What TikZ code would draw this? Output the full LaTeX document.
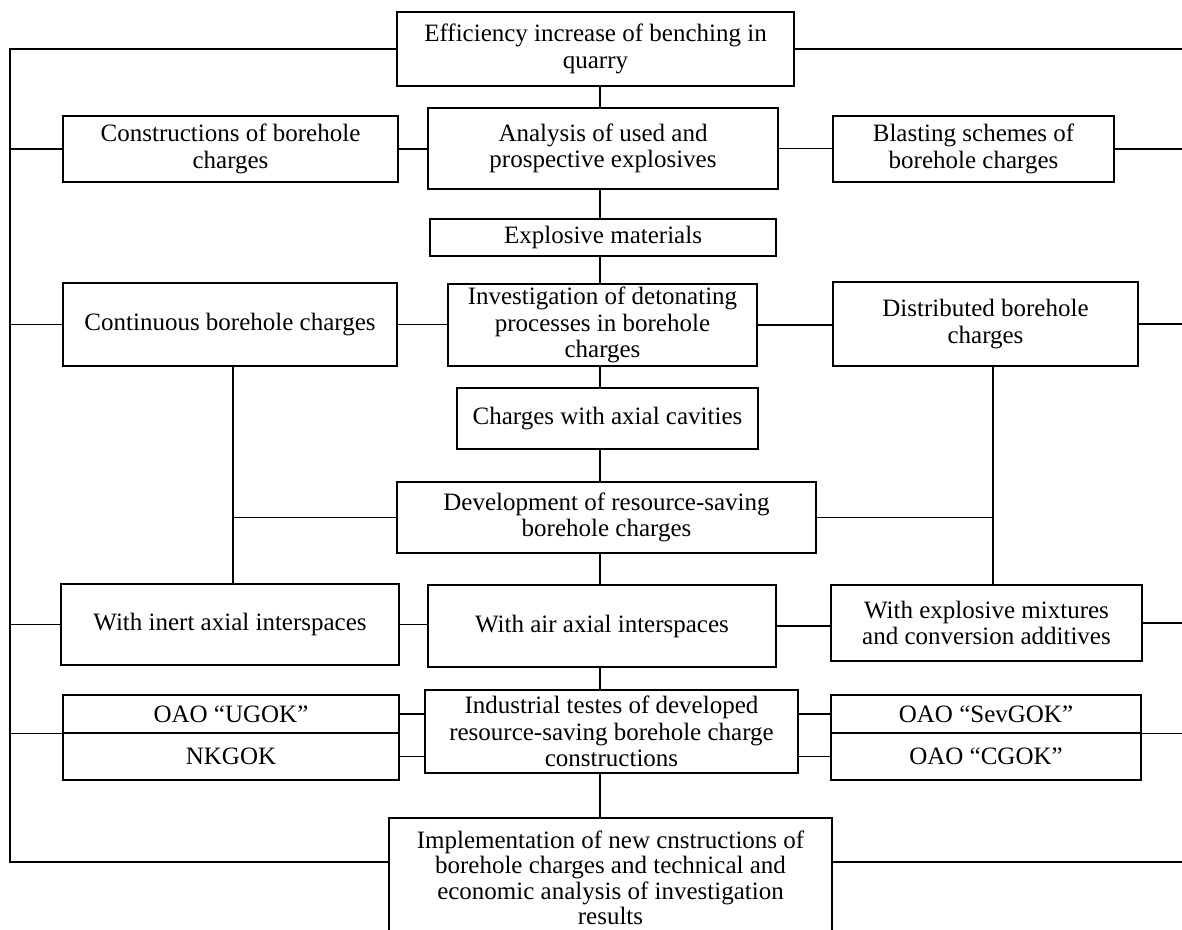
\documentclass[tikz,border=0pt]{standalone}
\usepackage{fontspec}
\setmainfont{Liberation Serif}
\begin{document}
\begin{tikzpicture}[x=1pt,y=-1pt,
  box/.style={draw,line width=1.5pt,inner sep=0pt,align=center,
    font=\fontsize{25}{26.5}\selectfont},
  conn/.style={line width=1.3pt}]
\useasboundingbox[fill=white] (0,0) rectangle (1182,929);
% helper x coordinates
\coordinate (L) at (10,0);
\coordinate (R) at (1182,0);
\coordinate (S) at (600,0);
\coordinate (CL) at (233,0);
\coordinate (CR) at (993,0);
% nodes
\node[box,minimum width=397pt,minimum height=74pt] (top) at (595.5,49) {Efficiency increase of benching in\\quarry};
\node[box,minimum width=335pt,minimum height=66pt] (cons) at (230.5,149) {Constructions of borehole\\charges};
\node[box,minimum width=350pt,minimum height=81pt] (ana) at (603,148.5) {Analysis of used and\\prospective explosives};
\node[box,minimum width=281pt,minimum height=66pt] (blast) at (973.5,149) {Blasting schemes of\\borehole charges};
\node[box,minimum width=346pt,minimum height=37pt] (expl) at (603,237.5) {Explosive materials};
\node[box,minimum width=309pt,minimum height=82pt] (inv) at (602.5,325) {Investigation of detonating\\processes in borehole\\charges};
\node[box,minimum width=334pt,minimum height=83pt] (cont) at (230,324.5) {Continuous borehole charges};
\node[box,minimum width=305pt,minimum height=84pt] (dist) at (985.5,324) {Distributed borehole\\charges};
\node[box,minimum width=301pt,minimum height=61pt] (cav) at (607.5,418.5) {Charges with axial cavities};
\node[box,minimum width=419pt,minimum height=71pt] (dev) at (606.5,517.5) {Development of resource-saving\\borehole charges};
\node[box,minimum width=338pt,minimum height=81pt] (inert) at (230,624.5) {With inert axial interspaces};
\node[box,minimum width=348pt,minimum height=82pt] (air) at (602,626) {With air axial interspaces};
\node[box,minimum width=311pt,minimum height=76pt] (mix) at (986.5,623) {With explosive mixtures\\and conversion additives};
\node[box,minimum width=336pt,minimum height=38pt] (ugok) at (231,714) {OAO “UGOK”};
\node[box,minimum width=336pt,minimum height=47pt] (nkgok) at (231,756.5) {NKGOK};
\node[box,minimum width=373pt,minimum height=83pt] (ind) at (611.5,731.5) {Industrial testes of developed\\resource-saving borehole charge\\constructions};
\node[box,minimum width=310pt,minimum height=38pt] (sev) at (986,714) {OAO “SevGOK”};
\node[box,minimum width=310pt,minimum height=47pt] (cgok) at (986,756.5) {OAO “CGOK”};
\node[box,minimum width=443pt,minimum height=120pt,font=\fontsize{25}{25.5}\selectfont] (impl) at (610.5,878) {Implementation of new cnstructions of\\borehole charges and technical and\\economic analysis of investigation\\results};
\coordinate (implW) at ([yshift=16pt]impl.west);
\coordinate (implE) at ([yshift=16pt]impl.east);
% spine
\draw[conn] (top.south -| S) -- (ana.north -| S);
\draw[conn] (ana.south -| S) -- (expl.north -| S);
\draw[conn] (expl.south -| S) -- (inv.north -| S);
\draw[conn] (inv.south -| S) -- (cav.north -| S);
\draw[conn] (cav.south -| S) -- (dev.north -| S);
\draw[conn] (dev.south -| S) -- (air.north -| S);
\draw[conn] (air.south -| S) -- (ind.north -| S);
\draw[conn] (ind.south -| S) -- (impl.north -| S);
% left bus
\draw[conn] (top.west) -- (top.west -| L) -- (implW -| L) -- (implW);
\draw[conn] (top.east) -- (top.east -| R);
\draw[conn] (implE) -- (implE -| R);
% row 2
\draw[conn] (cons.west -| L) -- (cons.west);
\draw[conn] (cons.east) -- (cons.east -| ana.west);
\draw[conn] (ana.east) -- (ana.east -| blast.west);
\draw[conn] (blast.east) -- (blast.east -| R);
% row 4
\draw[conn] (cont.west -| L) -- (cont.west);
\draw[conn] (cont.east) -- (cont.east -| inv.west);
\draw[conn] (inv.east) -- (inv.east -| dist.west);
\draw[conn] (dist.east) -- (dist.east -| R);
% branches
\draw[conn] (cont.south -| CL) -- (inert.north -| CL);
\draw[conn] (dev.west) -- (dev.west -| CL);
\draw[conn] (dist.south -| CR) -- (mix.north -| CR);
\draw[conn] (dev.east) -- (dev.east -| CR);
% row with interspaces
\draw[conn] (inert.west -| L) -- (inert.west);
\draw[conn] (inert.east) -- (inert.east -| air.west);
\draw[conn] (air.east) -- (air.east -| mix.west);
\draw[conn] (mix.east) -- (mix.east -| R);
% industrial row
\draw[conn] (ugok.south west -| L) -- (ugok.south west);
\draw[conn] (ugok.east) -- (ugok.east -| ind.west);
\draw[conn] (nkgok.east) -- (nkgok.east -| ind.west);
\draw[conn] (ind.east |- sev.east) -- (sev.west);
\draw[conn] (ind.east |- cgok.east) -- (cgok.west);
\draw[conn] (sev.south east) -- (sev.south east -| R);
\end{tikzpicture}
\end{document}
